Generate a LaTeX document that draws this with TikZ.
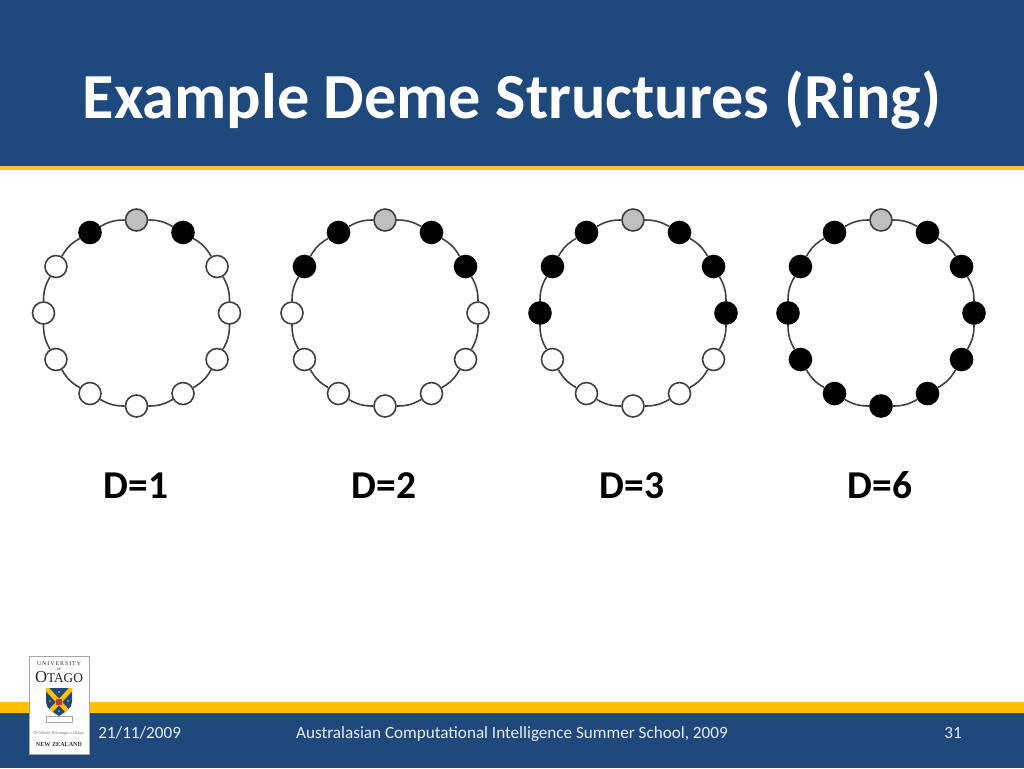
\documentclass[tikz,border=0pt]{standalone}
\usepackage{fontspec}
\setmainfont{Carlito}
\newfontfamily\logofont{Liberation Serif}
\definecolor{slideblue}{HTML}{1F497D}
\definecolor{slideyellow}{HTML}{FFC000}
\definecolor{stripeyellow}{HTML}{F2C230}
\definecolor{ringgrey}{HTML}{404040}
\definecolor{seedgrey}{HTML}{BFBFBF}
\definecolor{shieldred}{HTML}{C0392B}
\tikzset{
  demenode/.style={circle, draw=ringgrey, line width=1.2pt, minimum size=16.5pt, inner sep=0pt},
  whitenode/.style={demenode, fill=white},
  blacknode/.style={demenode, fill=black, draw=black},
  greynode/.style={demenode, fill=seedgrey},
  ringedge/.style={draw=ringgrey, line width=1.2pt},
  demelabel/.style={font=\fontsize{29.6}{34}\selectfont\bfseries, text=black, anchor=base},
  footertext/.style={font=\fontsize{12.85}{15}\selectfont, text=white!90!slideblue, inner sep=0pt, anchor=base}
}
% one ring: x of centre, name, D
\newcommand{\demering}[3]{%
  \foreach \i in {0,...,11}{
    \pgfmathtruncatemacro{\hops}{min(\i,12-\i)}
    \ifnum\hops=0 \def\kind{greynode}\else\ifnum\hops>#3 \def\kind{whitenode}\else\def\kind{blacknode}\fi\fi
    \node[\kind] (#2\i) at ({#1+93*cos(90-30*\i)},{313-93*sin(90-30*\i)}) {};
  }
  \foreach \i in {0,...,11}{
    \pgfmathtruncatemacro{\next}{mod(\i+1,12)}
    \draw[ringedge] (#2\i) to[bend left=15] (#2\next);
  }
}
\begin{document}
\begin{tikzpicture}[x=0.75pt,y=-0.75pt]
\useasboundingbox (0,0) rectangle (1024,768);
% header and footer bands
\fill[white] (0,0) rectangle (1024,768);
\fill[slideblue] (0,0) rectangle (1024,166);
\fill[stripeyellow] (0,166) rectangle (1024,170);
\fill[slideyellow] (0,702) rectangle (1024,713);
\fill[slideblue] (0,713) rectangle (1024,768);
\node[text=white, font=\fontsize{48.2}{56}\selectfont\bfseries, anchor=base] (title) at (512,118) {Example Deme Structures (Ring)};
% rings
\demering{136.5}{a}{1}
\demering{385}{b}{2}
\demering{633}{c}{3}
\demering{881}{d}{6}
\node[demelabel] (da) at (136,498) {D=1};
\node[demelabel] (db) at (384,498) {D=2};
\node[demelabel] (dc) at (632,498) {D=3};
\node[demelabel] (dd) at (880,498) {D=6};
% footer
\node[footertext, anchor=base west] (date) at (98,738) {21/11/2009};
\node[footertext] (event) at (512,738) {Australasian Computational Intelligence Summer School, 2009};
\node[footertext] (page) at (953,738) {31};
% logo
\draw[draw=black!35, fill=white, line width=0.5pt] (29,656) rectangle (89,754);
\node[inner sep=0pt, text=black!80, font=\logofont\fontsize{4.4}{5}\selectfont] (uni) at (59,664) {U\,N\,I\,V\,E\,R\,S\,I\,T\,Y};
\node[inner sep=0pt, text=black!80, font=\logofont\fontsize{2.6}{3}\selectfont] (of) at (59,669) {OF};
\node[inner sep=0pt, text=black!85, font=\logofont\fontsize{12.5}{13}\selectfont] (otago) at (59,677) {O\fontsize{10}{13}\selectfont TAGO};
\fill[slideblue] (46,688) -- (72,688) -- (72,702) .. controls (72,709) and (65,712) .. (59,716) .. controls (53,712) and (46,709) .. (46,702) -- cycle;
\begin{scope}
\clip (46,688) -- (72,688) -- (72,702) .. controls (72,709) and (65,712) .. (59,716) .. controls (53,712) and (46,709) .. (46,702) -- cycle;
\draw[slideyellow, line width=3.4pt] (46,688) -- (72,716);
\draw[slideyellow, line width=3.4pt] (72,688) -- (46,716);
\end{scope}
\fill[shieldred] (56,698.5) rectangle (62,704.5);
\foreach \dotx/\doty in {59/692, 50/701, 68/701, 59/711}
  \fill[slideyellow!80!black] (\dotx,\doty) circle (1.1);
\draw[black!35, fill=white, line width=0.3pt] (46,716) rectangle (72,722);
\node[inner sep=0pt, text=black!55, font=\logofont\itshape\fontsize{3.3}{4}\selectfont] (motto) at (59,733) {Te Whare Wānanga o Otāgo};
\node[inner sep=0pt, text=black!80, font=\logofont\bfseries\fontsize{4.6}{5}\selectfont] (nz) at (59,744.5) {NEW ZEALAND};
\end{tikzpicture}
\end{document}
